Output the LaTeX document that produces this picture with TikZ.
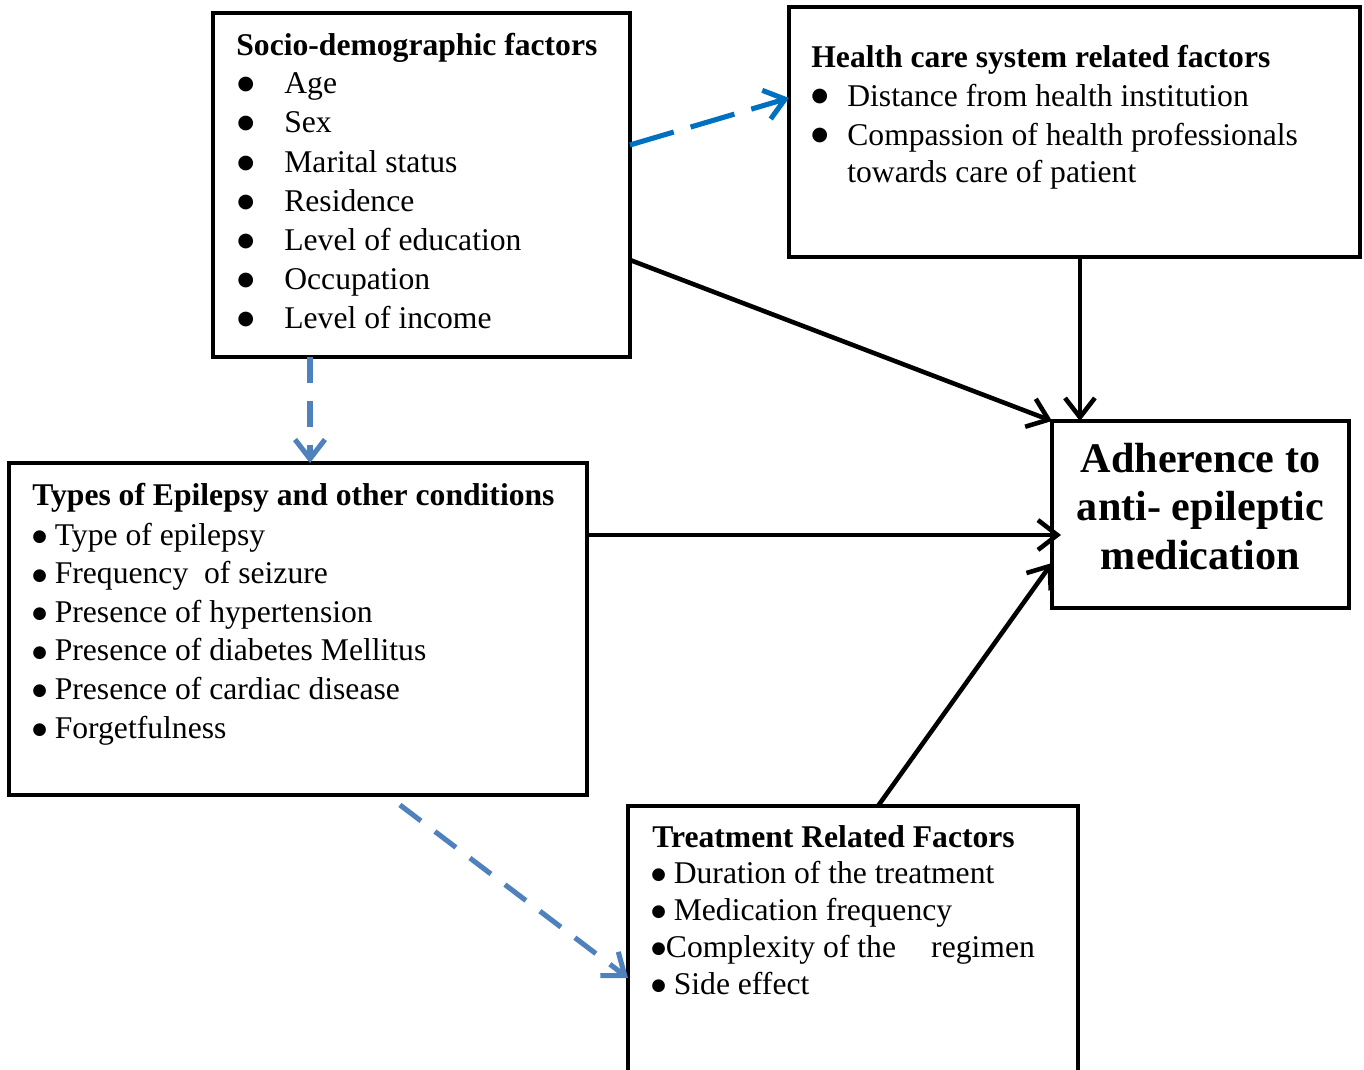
\documentclass[tikz,border=0pt]{standalone}
\usepackage{fontspec}
\setmainfont{Liberation Serif}
\newfontfamily\dotfont{DejaVu Sans}
\usetikzlibrary{arrows.meta}

\definecolor{boxblue}{HTML}{0070C0}
\definecolor{lightblue}{HTML}{4F81BD}

\newcommand{\bigbul}{\raisebox{2.3pt}{\dotfont\fontsize{11}{11}\selectfont ●}}
\newcommand{\bul}{\raisebox{2pt}{\dotfont\fontsize{9.5}{9.5}\selectfont ●}}

\tikzset{
  box/.style={draw, line width=2.5pt, inner sep=0pt, outer sep=0pt, anchor=north west},
  txt/.style={anchor=base west, inner sep=0pt, font=\fontsize{18}{22}\selectfont},
  head/.style={txt, font=\fontsize{18}{22}\selectfont\bfseries},
  big/.style={anchor=base, inner sep=0pt, font=\fontsize{24}{28}\selectfont\bfseries},
  link/.style={line width=2.6pt, -{Straight Barb[length=11pt, width=17pt]}},
  dlink/.style={link, line width=2.9pt, dash pattern=on 15pt off 10pt},
}

\begin{document}
\begin{tikzpicture}[x=0.02cm, y=-0.02cm]
    \useasboundingbox (0,0) rectangle (1364,1069);

    % Draw the boxes
    \node[box, minimum width=8.34cm, minimum height=6.88cm] (socio) at (213,13) {};
    \node[box, minimum width=11.42cm, minimum height=5.0cm] (health) at (789,7) {};
    \node[box, minimum width=5.94cm, minimum height=3.74cm] (adh) at (1052,421) {};
    \node[box, minimum width=11.56cm, minimum height=6.64cm] (types) at (9,463) {};
    \node[box, minimum width=9.0cm, minimum height=5.68cm] (treat) at (628,806) {};

    % Socio-demographic factors
    \node[head] (sochead) at (236,55) {Socio-demographic factors};
    \foreach \t [count=\i] in {Age, Sex, Marital status, Residence, Level of education, Occupation, Level of income} {
        \node[txt] (socb\i) at (237,{54.5+39.2*\i}) {\bigbul};
        \node[txt] (soc\i) at (284,{54.5+39.2*\i}) {\t};
    }

    % Health care system factors
    \node[head] (healthhead) at (811,67) {Health care system related factors};
    \node[txt] (hb1) at (811,106) {\bigbul};
    \node[txt] (h1) at (847,106) {Distance from health institution};
    \node[txt] (hb2) at (811,145) {\bigbul};
    \node[txt] (h2) at (847,145) {Compassion of health professionals};
    \node[txt] (h3) at (847,182) {towards care of patient};

    % Types of epilepsy
    \node[head] (typeshead) at (32,505) {Types of Epilepsy and other conditions};
    \foreach \t [count=\i] in {Type of epilepsy, Frequency\ \ of seizure, Presence of hypertension, Presence of diabetes Mellitus, Presence of cardiac disease, Forgetfulness}
        \node[txt] (ty\i) at (32,{506.4+38.6*\i}) {\bul\ \t};

    % Treatment related factors
    \node[head] (treathead) at (652,847) {Treatment Related Factors};
    \foreach \t [count=\i] in {\bul\ Duration of the treatment, \bul\ Medication frequency, \bul Complexity of the\hspace{20pt}regimen, \bul\ Side effect}
        \node[txt] (tr\i) at (651,{846+37*\i}) {\t};

    % Outcome
    \foreach \t/\y [count=\i] in {Adherence to/472, anti- epileptic/520, medication/569}
        \node[big] (adh\i) at (1200.5,\y) {\t};

    % Draw the arrows
    \draw[dlink, boxblue, dash pattern=on 26pt off 10pt] ([yshift=0.8cm]socio.east) -- ([yshift=0.68cm]health.west);
    \draw[link] ([yshift=-1.5cm]socio.east) -- (adh.north west);
    \draw[link] ([xshift=0.11cm]health.south) -- ([xshift=0.11cm]health.south |- adh.north);
    \draw[link, shorten >=-0.18cm] ([yshift=1.88cm]types.east) -- ([yshift=1.88cm]types.east -| adh.west);
    \draw[link] ([xshift=0.5cm]treat.north) -- ([yshift=-0.97cm]adh.west);
    \draw[dlink, lightblue] ([xshift=-2.23cm]socio.south) -- ([xshift=-2.23cm]socio.south |- types.north);
    \draw[dlink, lightblue] ([xshift=2.04cm, yshift=-0.2cm]types.south) -- ([yshift=-0.6cm]treat.west);
\end{tikzpicture}
\end{document}
